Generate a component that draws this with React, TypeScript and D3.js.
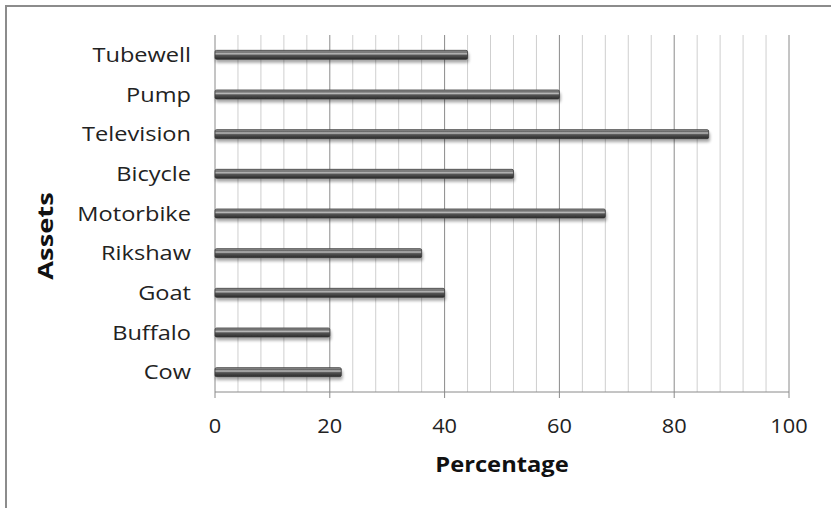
import * as d3 from "d3";

const categories = ["Tubewell", "Pump", "Television", "Bicycle", "Motorbike", "Rikshaw", "Goat", "Buffalo", "Cow"];
const values = [44, 60, 86, 52, 68, 36, 40, 20, 22];
const majorTicks = [0, 20, 40, 60, 80, 100];
const minorTicks = d3.range(0, 101, 4);

const W = 831;
const H = 508;
const left = 215;
const right = 789;
const top = 35;
const bottom = 392;
const font = "'Open Sans', 'Liberation Sans', sans-serif";

export default function App() {
  const x = d3.scaleLinear().domain([0, 100]).range([left, right]);
  const y = d3.scaleBand<string>().domain(categories).range([top, bottom]);
  const barH = 9;

  return (
    <svg width={W} height={H} style={{ position: "absolute", left: 0, top: 0, background: "#fff" }}>
      <defs>
        <linearGradient id="bar" x1="0" y1="0" x2="0" y2="1">
          <stop offset="0" stopColor="#a0a0a0" />
          <stop offset="0.2" stopColor="#6a6a6a" />
          <stop offset="0.38" stopColor="#bcbcbc" />
          <stop offset="0.55" stopColor="#555" />
          <stop offset="1" stopColor="#2a2a2a" />
        </linearGradient>
        <filter id="shadow" x="-5%" y="-50%" width="110%" height="250%">
          <feGaussianBlur in="SourceAlpha" stdDeviation="1.5" />
          <feOffset dx="1" dy="3" result="b" />
          <feComponentTransfer>
            <feFuncA type="linear" slope="0.35" />
          </feComponentTransfer>
          <feMerge>
            <feMergeNode />
            <feMergeNode in="SourceGraphic" />
          </feMerge>
        </filter>
      </defs>
      <rect x={6} y={6} width={W + 10} height={H + 10} fill="#fff" stroke="#8c8c8c" strokeWidth={2} />
      {minorTicks.map((t) => (
        <line
          key={"g" + t}
          x1={x(t)}
          x2={x(t)}
          y1={top}
          y2={bottom}
          stroke={t % 20 === 0 ? "#8a8a8a" : "#cfcfcf"}
          strokeWidth={1}
        />
      ))}
      <line x1={left} x2={right} y1={bottom} y2={bottom} stroke="#8a8a8a" />
      {majorTicks.map((t) => (
        <g key={"t" + t}>
          <line x1={x(t)} x2={x(t)} y1={bottom} y2={bottom + 6} stroke="#8a8a8a" />
          <g transform={`translate(${x(t)},${bottom + 41}) scale(1.09,1)`}>
            <text textAnchor="middle" fontFamily={font} fontSize={20} fill="#222">
              {t}
            </text>
          </g>
        </g>
      ))}
      {categories.map((c, i) => {
        const cy = (y(c) ?? 0) + y.bandwidth() / 2;
        return (
          <g key={c}>
            <g transform={`translate(191,${cy + 7}) scale(1.18,1)`}>
              <text textAnchor="end" fontFamily={font} fontSize={20} fill="#222">
                {c}
              </text>
            </g>
            <rect
              x={x(0)}
              y={cy - barH / 2}
              width={x(values[i]) - x(0)}
              height={barH}
              rx={1.5}
              fill="url(#bar)"
              stroke="#3a3a3a"
              strokeWidth={0.8}
              filter="url(#shadow)"
            />
          </g>
        );
      })}
      <g transform="translate(502,472) scale(1.13,1)">
        <text textAnchor="middle" fontFamily={font} fontSize={21} fontWeight="bold" fill="#111">
          Percentage
        </text>
      </g>
      <g transform="translate(53,236) rotate(-90) scale(1.3,1)">
        <text textAnchor="middle" fontFamily={font} fontSize={21} fontWeight="bold" fill="#111">
          Assets
        </text>
      </g>
    </svg>
  );
}
